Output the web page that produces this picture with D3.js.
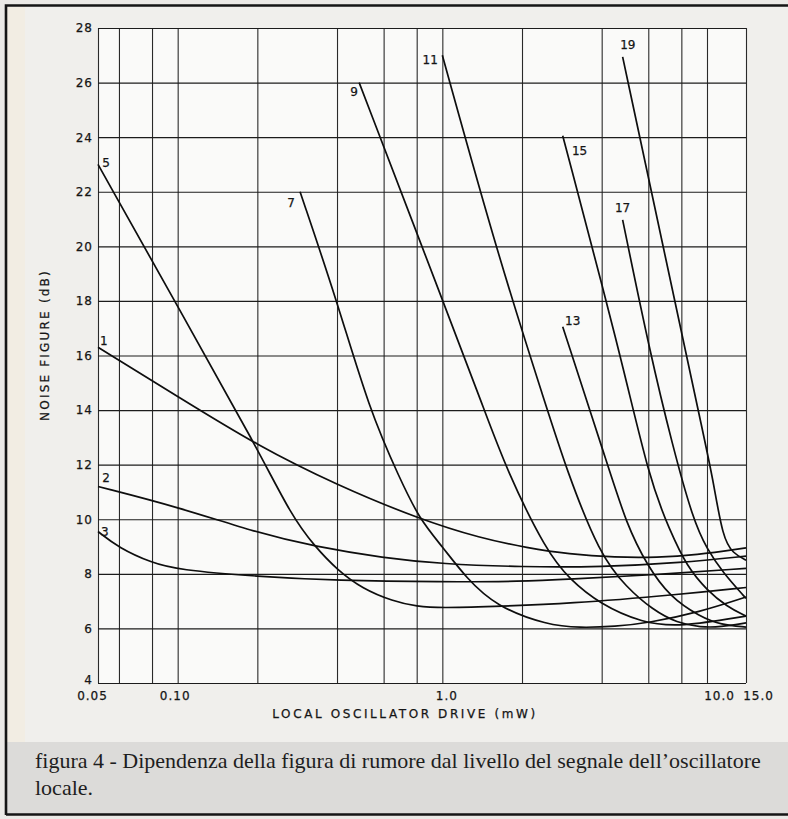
<!DOCTYPE html>
<html>
<head>
<meta charset="utf-8">
<script src="https://cdn.jsdelivr.net/npm/d3@7"></script>
<style>
  body { margin: 0; background: #ebe9e6; }
  svg { display: block; }
  .lbl { font-family: "DejaVu Sans", sans-serif; font-size: 12px; fill: #151515; stroke: #151515; stroke-width: 0.25px; }
  .caption { font-family: "Liberation Serif", "Times New Roman", serif; font-size: 22px; fill: #1e1e1e; }
</style>
</head>
<body>
<div id="vis"></div>
<script>
// grid and tick values
var xGrid = [0.05, 0.06, 0.08, 0.1, 0.2, 0.4, 0.6, 0.8, 1, 2, 4, 6, 8, 10, 15];
var xTickValues = [0.05, 0.1, 1, 10, 15];
var xTickLabels = ["0.05", "0.10", "1.0", "10.0", "15.0"];
var yTicks = [4, 6, 8, 10, 12, 14, 16, 18, 20, 22, 24, 26, 28];

// curves: [LO drive mW, noise figure dB]
var curve1 = [[0.05,16.3],[0.1,14.5],[0.2,12.7],[0.4,11.25],[0.82,10.0],[1.4,9.3],[2.1,8.95],[3.0,8.72],[4.5,8.6],[6.5,8.6],[9,8.68],[15,8.95]];
var curve2 = [[0.05,11.2],[0.1,10.45],[0.2,9.5],[0.33,9.0],[0.6,8.58],[1.0,8.36],[2.0,8.25],[4.0,8.25],[8.0,8.4],[15,8.65]];
var curve3 = [[0.05,9.55],[0.06,8.95],[0.08,8.4],[0.1,8.15],[0.2,7.9],[0.4,7.75],[1.0,7.7],[2.0,7.72],[3.0,7.8],[6.0,7.95],[15,8.2]];
var curve5 = [[0.05,23.0],[0.1,17.8],[0.2,12.6],[0.27,10.1],[0.33,9.0],[0.4,8.15],[0.5,7.45],[0.65,7.0],[0.8,6.8],[1.0,6.75],[1.5,6.8],[3,6.9],[8,7.25],[15,7.5]];
var curve7 = [[0.29,22.0],[0.4,18.0],[0.53,14.0],[0.69,11.5],[0.82,10.0],[1.0,9.0],[1.23,7.85],[1.6,6.8],[2.5,6.12],[3.3,6.02],[4.5,6.07],[6,6.2],[9.4,6.6],[15,7.15]];
var curve9 = [[0.485,26.0],[1.0,18.05],[1.43,14.1],[1.75,11.8],[2.48,8.8],[3.03,7.8],[3.93,6.9],[5.7,6.2],[7.9,6.05],[15,6.45]];
var curve11 = [[1.0,27.0],[1.64,19.5],[2.48,14.08],[2.95,11.8],[3.93,8.7],[4.97,7.5],[6.24,6.68],[7.7,6.2],[9.5,6.04],[11.5,6.05],[15,6.2]];
var curve13 = [[2.85,17.05],[4.18,12.1],[4.97,9.8],[5.95,8.3],[7.23,7.16],[9.4,6.43],[11.6,6.13],[15,6.05]];
var curve15 = [[2.85,24.05],[4.69,16.13],[6.06,11.44],[7.23,9.6],[8.4,8.26],[10,7.4],[12.3,6.8],[15,6.45]];
var curve17 = [[4.8,20.97],[6.08,16.13],[7.43,12.65],[8.85,10.0],[10,8.9],[11.8,8.05],[15,7.1]];
var curve19 = [[4.8,26.94],[7.0,19.5],[10.0,12.5],[10.64,11.44],[11.8,9.3],[13.1,8.75],[15,8.5]];

var curveNames = ["1", "2", "3", "5", "7", "9", "11", "13", "15", "17", "19"];
var curveValues = [curve1, curve2, curve3, curve5, curve7, curve9, curve11, curve13, curve15, curve17, curve19];
// where each curve number sits, in chart units
var labelAt = [[0.0526,16.55],[0.0536,11.52],[0.053,9.55],[0.0536,23.05],[0.268,21.6],[0.464,25.66],[0.9,26.83],[3.11,17.27],[3.3,23.5],[4.8,21.4],[5.02,27.38]];

var width = 788,
    height = 819,
    plot = { left: 98, right: 746, top: 28, bottom: 683 };

var svg = d3.select('#vis').append('svg')
    .attr('width', width)
    .attr('height', height);

// paper background
svg.append('rect').attr('x', 6).attr('y', 6).attr('width', width - 6).attr('height', 808).attr('fill', '#f0efec');
svg.append('rect').attr('x', 7).attr('y', 7).attr('width', 18).attr('height', 806).attr('fill', '#f2ede3');
svg.append('rect').attr('x', 7).attr('y', 742).attr('width', width - 7).attr('height', 72).attr('fill', '#dcdbd9');
svg.append('rect').attr('x', plot.left).attr('y', plot.top)
    .attr('width', plot.right - plot.left).attr('height', plot.bottom - plot.top)
    .attr('fill', '#fafaf9');

// frame round the page
svg.append('path')
    .attr('d', 'M6,815 L6,5.5 L' + width + ',5.5 M6,814.5 L' + width + ',814.5')
    .attr('fill', 'none')
    .attr('stroke', '#151515')
    .attr('stroke-width', 2.6);

// log scale is hand drawn: 10 and 15 sit closer than a true log would put them
var x = d3.scaleLog()
    .domain([0.05, 10, 15])
    .range([plot.left, 707, plot.right]);

var y = d3.scaleLinear()
    .domain([4, 28])
    .range([plot.bottom, plot.top]);

// grid
svg.append('g')
    .attr('transform', 'translate(0,' + plot.bottom + ')')
    .call(d3.axisBottom(x).tickValues(xGrid).tickSize(-(plot.bottom - plot.top)).tickFormat(''))
    .call(function(g) { g.select('.domain').remove(); })
    .selectAll('line').attr('stroke', '#2a2a2a').attr('stroke-width', 1.1);

svg.append('g')
    .attr('transform', 'translate(' + plot.left + ',0)')
    .call(d3.axisLeft(y).tickValues(yTicks).tickSize(-(plot.right - plot.left)).tickFormat(''))
    .call(function(g) { g.select('.domain').remove(); })
    .selectAll('line').attr('stroke', '#1c1c1c').attr('stroke-width', 1.2);

// tick labels
var yAxis = svg.append('g')
    .attr('transform', 'translate(' + plot.left + ',0)')
    .call(d3.axisLeft(y).tickValues(yTicks).tickSize(0).tickPadding(5));
yAxis.select('.domain').remove();
yAxis.selectAll('text').attr('class', 'lbl').attr('font-size', null).attr('font-family', null)
    .attr('letter-spacing', '1px')
    .attr('dy', function(d) { return d === 4 ? '0.02em' : '0.32em'; });

var xAxis = svg.append('g')
    .attr('transform', 'translate(0,' + plot.bottom + ')')
    .call(d3.axisBottom(x).tickValues(xTickValues).tickSize(0).tickPadding(8)
        .tickFormat(function(d, i) { return xTickLabels[i]; }));
xAxis.select('.domain').remove();
xAxis.selectAll('text').attr('class', 'lbl').attr('font-size', null).attr('font-family', null)
    .attr('letter-spacing', '1px')
    .attr('dx', function(d) { return d >= 10 ? 12 : (d === 1 ? 4 : (d < 0.07 ? -6 : -3)); });

// axis titles
svg.append('text')
    .attr('class', 'lbl')
    .attr('x', 405).attr('y', 718)
    .attr('text-anchor', 'middle')
    .attr('letter-spacing', '2.6px')
    .text('LOCAL OSCILLATOR DRIVE (mW)');

svg.append('text')
    .attr('class', 'lbl')
    .attr('transform', 'translate(49,345) rotate(-90)')
    .attr('text-anchor', 'middle')
    .attr('letter-spacing', '2.2px')
    .text('NOISE FIGURE (dB)');

// curves
var line = d3.line()
    .x(function(d) { return x(d[0]); })
    .y(function(d) { return y(d[1]); })
    .curve(d3.curveBasis);

svg.append('g')
    .selectAll('path')
    .data(curveValues)
    .enter().append('path')
      .attr('d', line)
      .attr('fill', 'none')
      .attr('stroke', '#0e0e0e')
      .attr('stroke-width', 1.7);

svg.append('g')
    .selectAll('text')
    .data(curveNames)
    .enter().append('text')
      .attr('class', 'lbl')
      .attr('x', function(d, i) { return x(labelAt[i][0]); })
      .attr('y', function(d, i) { return y(labelAt[i][1]); })
      .attr('dy', '0.35em')
      .attr('text-anchor', 'middle')
      .text(function(d) { return d; });

// caption
svg.append('text')
    .attr('class', 'caption')
    .attr('x', 35).attr('y', 768)
    .text('figura 4 - Dipendenza della figura di rumore dal livello del segnale dell\u2019oscillatore');
svg.append('text')
    .attr('class', 'caption')
    .attr('x', 35).attr('y', 795)
    .text('locale.');
</script>
</body>
</html>
